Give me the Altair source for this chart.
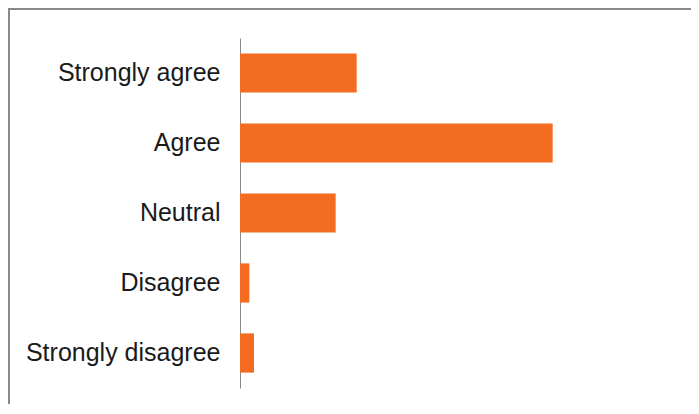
import altair as alt
import pandas as pd

categories = ["Strongly agree", "Agree", "Neutral", "Disagree", "Strongly disagree"]
values = [25, 67, 20.5, 2, 3]

df = pd.DataFrame({"response": categories, "value": values})

bars = alt.Chart(df).mark_bar(color="#F36C21").encode(
    y=alt.Y("response:N", sort=categories, title=None,
            scale=alt.Scale(paddingInner=0.44, paddingOuter=0.22),
            axis=alt.Axis(labelFont="Liberation Sans", labelFontSize=25,
                          labelColor="#1a1a1a", ticks=False, labelPadding=20,
                          labelLimit=400,
                          domainColor="#8a8a8a", domainWidth=1, grid=False)),
    x=alt.X("value:Q", title=None, scale=alt.Scale(domain=[0, 90]),
            axis=None),
)

frame_top = alt.Chart(df).mark_rule(color="#8a8a8a", strokeWidth=2, clip=False).encode(
    x=alt.value(-232), x2=alt.value(460), y=alt.value(-29)
)
frame_left = alt.Chart(df).mark_rule(color="#8a8a8a", strokeWidth=2, clip=False).encode(
    x=alt.value(-231), y=alt.value(-30), y2=alt.value(400)
)

chart = alt.layer(bars, frame_top, frame_left).properties(
    width=420, height=350,
    autosize=alt.AutoSizeParams(type="none"),
    padding={"left": 232, "top": 30, "right": 31, "bottom": 16},
    background="white",
).configure_view(stroke=None, strokeWidth=0)

chart.save("out.html", embed_options={"renderer": "svg", "actions": False})
